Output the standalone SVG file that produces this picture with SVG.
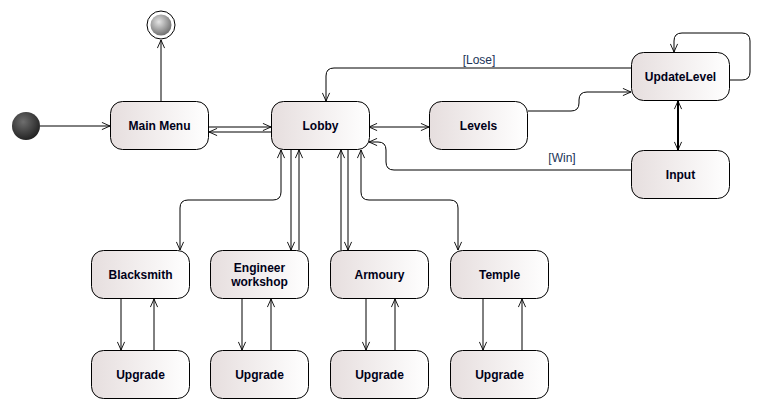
<svg xmlns="http://www.w3.org/2000/svg" width="771" height="410" viewBox="0 0 771 410">
<style>
.node rect{stroke:#000;stroke-width:1;fill:url(#ng)}
.node text{font-family:"Liberation Sans",Arial,sans-serif;font-weight:bold;font-size:12px;fill:#000018;text-anchor:middle}
#connectors path{fill:none;stroke:#000;stroke-width:1}
.lbl{font-family:"Liberation Sans",Arial,sans-serif;font-size:12px;fill:#203458;text-anchor:middle}
</style>
<defs>
<linearGradient id="ng" x1="0" y1="0" x2="1" y2="0">
<stop offset="0" stop-color="#e6dede"/>
<stop offset="1" stop-color="#ffffff"/>
</linearGradient>
<radialGradient id="ig" cx="0.4" cy="0.35" r="0.7">
<stop offset="0" stop-color="#6e6e6e"/>
<stop offset="1" stop-color="#1e1e1e"/>
</radialGradient>
<radialGradient id="fg" cx="0.4" cy="0.35" r="0.7">
<stop offset="0" stop-color="#e4e4e4"/>
<stop offset="1" stop-color="#6a6a6a"/>
</radialGradient>
<marker id="a" viewBox="0 0 10 10" refX="10" refY="5" markerWidth="9" markerHeight="9" markerUnits="userSpaceOnUse" orient="auto-start-reverse">
<path d="M1,1 L10,5 L1,9" fill="none" stroke="#000" stroke-width="1"/>
</marker>
</defs>
<rect width="771" height="410" fill="#fff"/>

<g id="connectors">
<path d="M40,126 H110" marker-end="url(#a)"/>
<path d="M161,101 V40" marker-end="url(#a)"/>
<path d="M209,127 H271" marker-end="url(#a)"/>
<path d="M271,132 H209" marker-end="url(#a)"/>
<path d="M369,127 H429" marker-start="url(#a)" marker-end="url(#a)"/>
<path d="M528,111 H571 Q579,111 579,103 V100 Q579,92 587,92 H631" marker-end="url(#a)"/>
<path d="M631,68 H334 Q326,68 326,76 V101" marker-end="url(#a)"/>
<path d="M631,170 H394 Q386,170 386,162 V150 Q386,142 378,142 H369" marker-end="url(#a)"/>
<path d="M729,80 H742 Q750,80 750,72 V41 Q750,33 742,33 H682 Q674,33 674,41 V52" marker-end="url(#a)"/>
<path d="M678,101 V150" style="stroke-width:2" marker-start="url(#a)" marker-end="url(#a)"/>
<path d="M281,150 V192 Q281,200 273,200 H188 Q180,200 180,208 V250" marker-start="url(#a)" marker-end="url(#a)"/>
<path d="M291,150 V250" marker-end="url(#a)"/>
<path d="M299,250 V150" marker-end="url(#a)"/>
<path d="M341,250 V150" marker-end="url(#a)"/>
<path d="M348,150 V250" marker-end="url(#a)"/>
<path d="M361,150 V192 Q361,200 369,200 H450 Q458,200 458,208 V250" marker-start="url(#a)" marker-end="url(#a)"/>
<path d="M121,299 V350" marker-end="url(#a)"/>
<path d="M154,350 V299" marker-end="url(#a)"/>
<path d="M242,299 V350" marker-end="url(#a)"/>
<path d="M271,350 V299" marker-end="url(#a)"/>
<path d="M366,299 V350" marker-end="url(#a)"/>
<path d="M395,350 V299" marker-end="url(#a)"/>
<path d="M483,299 V350" marker-end="url(#a)"/>
<path d="M522,350 V299" marker-end="url(#a)"/>
<text class="lbl" x="479" y="64">[Lose]</text>
<text class="lbl" x="562" y="162">[Win]</text>
</g>

<g id="initial"><circle cx="26" cy="126" r="14" fill="url(#ig)"/></g>
<g id="final">
<circle cx="161" cy="25" r="14" fill="#fff" stroke="#000" stroke-width="1"/>
<circle cx="161" cy="25" r="10.5" fill="url(#fg)"/>
</g>

<g id="mainmenu" class="node"><rect x="110.5" y="101.5" width="98" height="48" rx="12"/><text x="159.5" y="130">Main Menu</text></g>
<g id="lobby" class="node"><rect x="271.5" y="101.5" width="98" height="48" rx="12"/><text x="320.5" y="130">Lobby</text></g>
<g id="levels" class="node"><rect x="429.5" y="101.5" width="98" height="48" rx="12"/><text x="478.5" y="130">Levels</text></g>
<g id="updatelevel" class="node"><rect x="631.5" y="52.5" width="98" height="48" rx="12"/><text x="680.5" y="81">UpdateLevel</text></g>
<g id="input" class="node"><rect x="631.5" y="150.5" width="98" height="48" rx="12"/><text x="680.5" y="179">Input</text></g>
<g id="blacksmith" class="node"><rect x="91.5" y="250.5" width="98" height="48" rx="12"/><text x="140.5" y="279">Blacksmith</text></g>
<g id="engineer" class="node"><rect x="210.5" y="250.5" width="98" height="48" rx="12"/><text x="259.5" y="272">Engineer</text><text x="259.5" y="286">workshop</text></g>
<g id="armoury" class="node"><rect x="330.5" y="250.5" width="98" height="48" rx="12"/><text x="379.5" y="279">Armoury</text></g>
<g id="temple" class="node"><rect x="450.5" y="250.5" width="98" height="48" rx="12"/><text x="499.5" y="279">Temple</text></g>
<g id="upgrade1" class="node"><rect x="91.5" y="350.5" width="98" height="48" rx="12"/><text x="140.5" y="379">Upgrade</text></g>
<g id="upgrade2" class="node"><rect x="210.5" y="350.5" width="98" height="48" rx="12"/><text x="259.5" y="379">Upgrade</text></g>
<g id="upgrade3" class="node"><rect x="330.5" y="350.5" width="98" height="48" rx="12"/><text x="379.5" y="379">Upgrade</text></g>
<g id="upgrade4" class="node"><rect x="450.5" y="350.5" width="98" height="48" rx="12"/><text x="499.5" y="379">Upgrade</text></g>
</svg>
